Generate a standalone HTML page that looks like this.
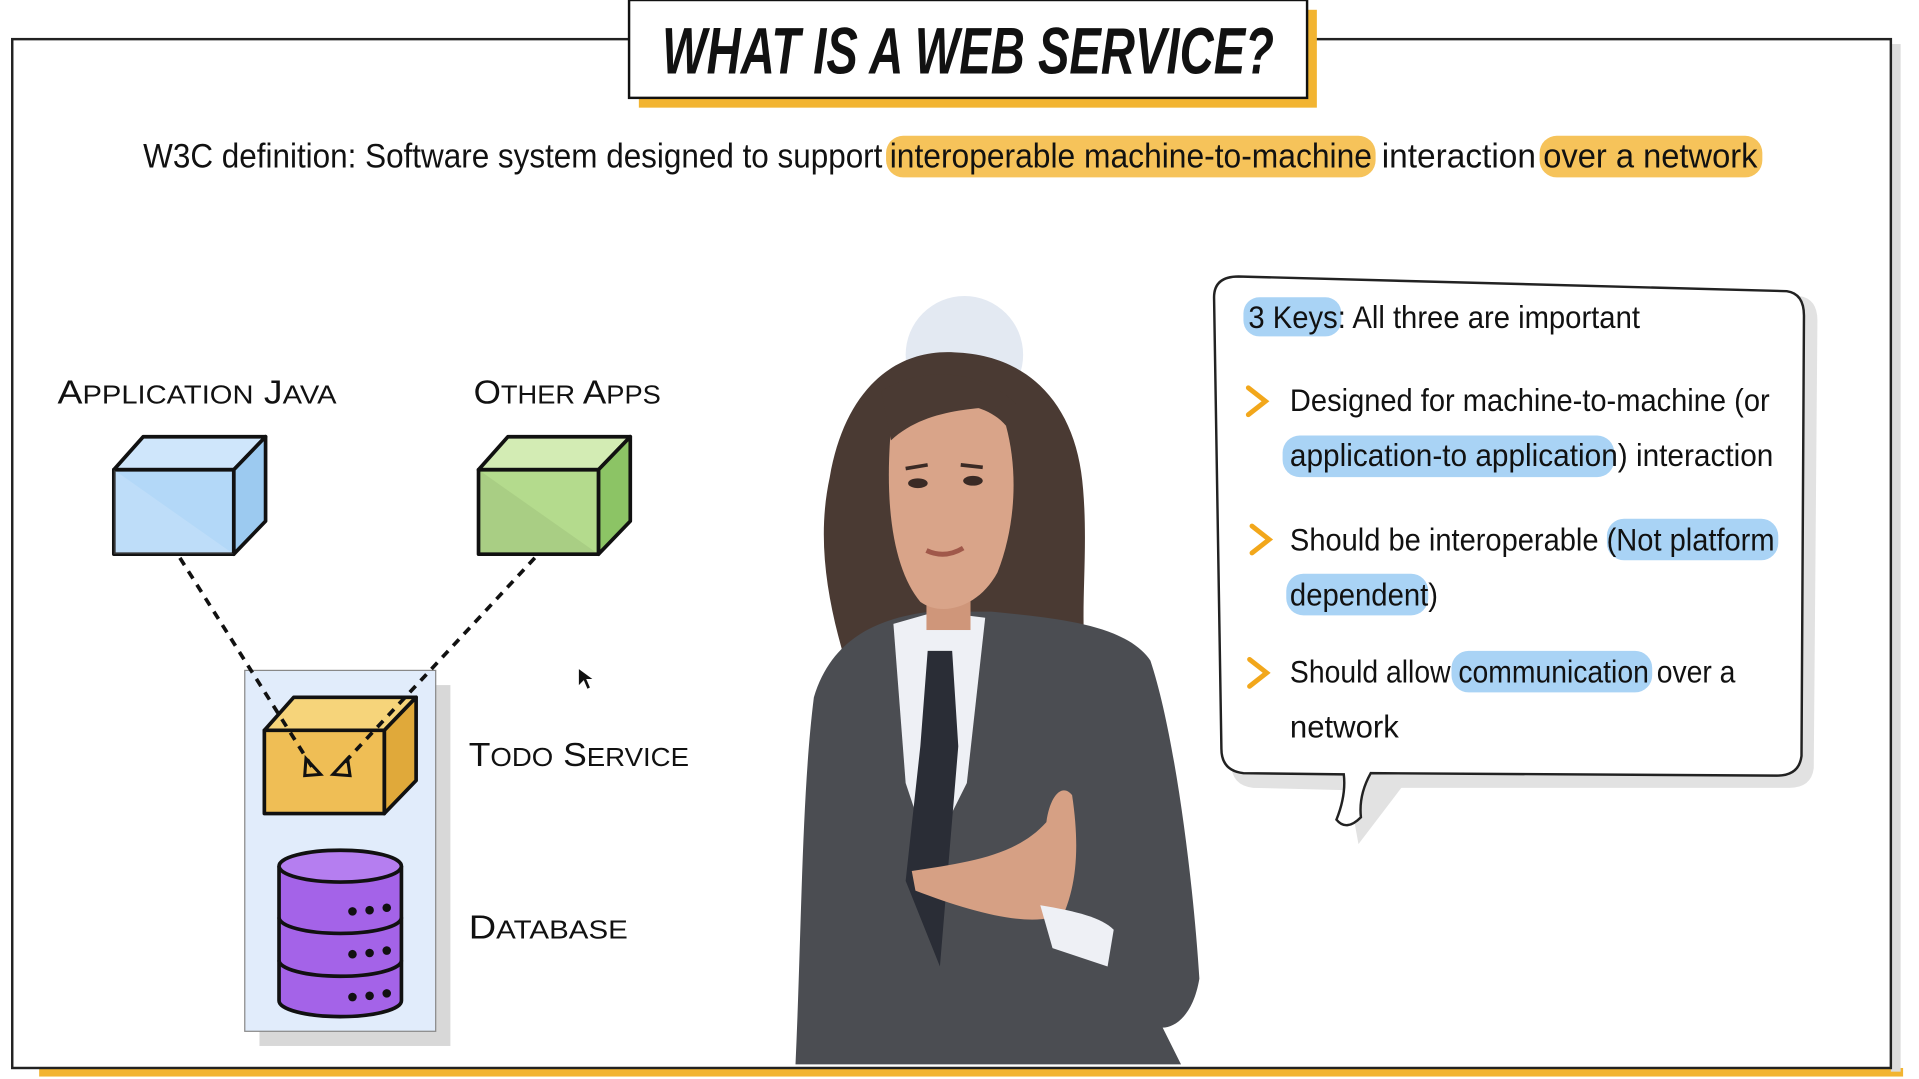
<!DOCTYPE html>
<html><head><meta charset="utf-8"><style>
html,body{margin:0;padding:0;background:#fff;overflow:hidden}
svg{display:block}
text{font-family:"Liberation Sans Narrow","Liberation Sans",sans-serif;fill:#111}
</style></head><body>
<svg width="1919" height="1079" viewBox="0 0 1568 882" preserveAspectRatio="none" xmlns="http://www.w3.org/2000/svg">
<rect width="1568" height="882" fill="#fff"/>
<rect x="32" y="873" width="1523" height="7" fill="#f2b431"/>
<rect x="1545" y="36" width="8" height="840" fill="#ddd"/>
<rect x="10" y="32" width="1535" height="841" fill="#fff" stroke="#222" stroke-width="2"/>
<rect x="522" y="8" width="554" height="80" fill="#f2b431"/>
<rect x="514" y="0" width="554" height="80" fill="#fff" stroke="#111" stroke-width="2"/>
<text x="791" y="60" text-anchor="middle" font-size="54" font-weight="bold" font-style="italic" textLength="500" lengthAdjust="spacingAndGlyphs">WHAT IS A WEB SERVICE?</text>
<rect x="724" y="111" width="400" height="34" rx="14" fill="#f6c35a"/>
<rect x="1258" y="111" width="182" height="34" rx="14" fill="#f6c35a"/>
<text x="117" y="137" font-size="28" textLength="604" lengthAdjust="spacingAndGlyphs">W3C definition: Software system designed to support</text>
<text x="727" y="137" font-size="28" textLength="394" lengthAdjust="spacingAndGlyphs">interoperable machine-to-machine</text>
<text x="1129" y="137" font-size="28" textLength="126" lengthAdjust="spacingAndGlyphs">interaction</text>
<text x="1261" y="137" font-size="28" textLength="175" lengthAdjust="spacingAndGlyphs">over a network</text>
<text x="47" y="330" font-size="27" textLength="228" lengthAdjust="spacingAndGlyphs">A<tspan font-size="21">PPLICATION</tspan> J<tspan font-size="21">AVA</tspan></text>
<text x="387" y="330" font-size="27" textLength="153" lengthAdjust="spacingAndGlyphs">O<tspan font-size="21">THER</tspan> A<tspan font-size="21">PPS</tspan></text>
<text x="383" y="626" font-size="27" textLength="180" lengthAdjust="spacingAndGlyphs">T<tspan font-size="21">ODO</tspan> S<tspan font-size="21">ERVICE</tspan></text>
<text x="383" y="767" font-size="27" textLength="130" lengthAdjust="spacingAndGlyphs">D<tspan font-size="21">ATABASE</tspan></text>
<g stroke="#111" stroke-width="3" stroke-linejoin="round">
<polygon points="93,384 117,357 217,357 191,384" fill="#cfe6fb"/>
<polygon points="191,384 217,357 217,426 191,453" fill="#9ccaf0"/>
<rect x="93" y="384" width="98" height="69" fill="#b3d8f8"/>
<polygon points="391,384 415,357 515,357 489,384" fill="#d3ecb4"/>
<polygon points="489,384 515,357 515,426 489,453" fill="#8cc465"/>
<rect x="391" y="384" width="98" height="69" fill="#b4db8d"/>
</g>
<polygon points="93,384 191,453 93,453" fill="#fff" opacity="0.15"/>
<polygon points="391,384 489,453 391,453" fill="#000" opacity="0.06"/>
<rect x="212" y="560" width="156" height="295" fill="#d8d8d8"/>
<rect x="200" y="548" width="156" height="295" fill="#e1ecfb" stroke="#888" stroke-width="1"/>
<g stroke="#111" stroke-width="3" stroke-linejoin="round">
<polygon points="216,597 240,570 340,570 314,597" fill="#f6d47a"/>
<polygon points="314,597 340,570 340,638 314,665" fill="#e0a93a"/>
<rect x="216" y="597" width="98" height="68" fill="#efbe55"/>
</g>
<g stroke="#111" stroke-width="3" stroke-dasharray="7,6" fill="none">
<line x1="147" y1="456" x2="255" y2="627"/>
<line x1="437" y1="456" x2="278" y2="627"/>
</g>
<polygon points="262,633 250,620 249,634" fill="none" stroke="#111" stroke-width="2.5"/>
<polygon points="272,633 284,620 286,634" fill="none" stroke="#111" stroke-width="2.5"/>
<g stroke="#111" stroke-width="3" fill="#a463e8">
<path d="M228,708 v110 a50,13 0 0 0 100,0 v-110"/>
<ellipse cx="278" cy="708" rx="50" ry="13" fill="#b57ef0"/>
<path d="M228,750 a50,13 0 0 0 100,0" fill="none"/>
<path d="M228,785 a50,13 0 0 0 100,0" fill="none"/>
</g>
<g fill="#111">
<circle cx="288" cy="745" r="3.5"/><circle cx="302" cy="744" r="3.5"/><circle cx="316" cy="742" r="3.5"/>
<circle cx="288" cy="780" r="3.5"/><circle cx="302" cy="779" r="3.5"/><circle cx="316" cy="777" r="3.5"/>
<circle cx="288" cy="815" r="3.5"/><circle cx="302" cy="814" r="3.5"/><circle cx="316" cy="812" r="3.5"/>
</g>
<polygon points="473,547 473,560 477,556 480,563 482,562 479,555 484,555" fill="#111"/>
<circle cx="788" cy="290" r="48" fill="#e3e9f2"/>
<!-- woman -->
<path d="M700,570 C680,510 665,450 678,390 C690,320 730,285 780,288 C840,290 880,330 885,400 C890,460 880,510 890,560 C860,575 820,560 800,540 L740,570 Z" fill="#4a3a33"/>
<path d="M665,570 C680,520 720,505 760,500 L810,500 C860,505 920,510 940,540 C960,600 975,720 980,800 C975,830 960,840 950,840 L965,870 L650,870 C655,760 655,650 665,570 Z" fill="#4b4d52"/>
<polygon points="730,510 765,500 805,505 790,640 760,700 740,640" fill="#eef0f5"/>
<polygon points="758,532 778,532 783,610 768,790 740,720 752,610" fill="#2a2d36"/>
<rect x="757" y="470" width="36" height="45" fill="#cf967a"/>
<path d="M728,350 C745,325 800,322 822,348 C832,385 830,430 815,468 C800,496 770,505 752,492 C732,468 722,420 728,350 Z" fill="#d9a489"/>
<path d="M720,320 C750,300 800,300 830,330 C810,335 760,330 728,360 Z" fill="#4a3a33"/>
<g fill="#3a2a25"><ellipse cx="750" cy="395" rx="8" ry="4"/><ellipse cx="795" cy="393" rx="8" ry="4"/></g>
<path d="M740,383 l18,-3 M785,380 l18,2" stroke="#3a2a25" stroke-width="3"/>
<path d="M757,450 q15,7 30,-2" stroke="#a0584a" stroke-width="4" fill="none"/>
<path d="M745,712 C790,705 830,700 855,672 C858,650 868,640 876,650 C882,690 880,720 870,745 C850,760 800,748 748,728 Z" fill="#d6a084"/>
<path d="M850,740 C880,745 900,750 910,760 L905,790 L860,775 Z" fill="#eef0f5"/>
<!-- speech bubble -->
<path d="M1000,250 Q1000,232 1020,232 L1470,242 Q1485,244 1485,262 L1482,628 Q1480,644 1462,644 L1145,644 L1110,690 L1102,646 L1024,644 Q1006,642 1006,624 Z" fill="#e2e2e2"/>
<path d="M992,243 Q992,226 1012,226 L1460,238 Q1474,240 1474,258 L1472,618 Q1470,634 1452,634 L1120,632 Q1110,650 1112,668 Q1100,680 1092,670 Q1100,650 1098,633 L1016,632 Q998,630 998,612 Z" fill="#fff" stroke="#222" stroke-width="2"/>
<g fill="#a9d3f5">
<rect x="1016" y="243" width="80" height="32" rx="13"/>
<rect x="1048" y="356" width="271" height="34" rx="14"/>
<rect x="1313" y="424" width="140" height="34" rx="14"/>
<rect x="1051" y="469" width="116" height="34" rx="14"/>
<rect x="1186" y="532" width="164" height="34" rx="14"/>
</g>
<g font-size="26">
<text x="1020" y="268" textLength="320" lengthAdjust="spacingAndGlyphs">3 Keys: All three are important</text>
<text x="1054" y="336" textLength="392" lengthAdjust="spacingAndGlyphs">Designed for machine-to-machine (or</text>
<text x="1054" y="381" textLength="395" lengthAdjust="spacingAndGlyphs">application-to application) interaction</text>
<text x="1054" y="450" textLength="396" lengthAdjust="spacingAndGlyphs">Should be interoperable (Not platform</text>
<text x="1054" y="495" textLength="121" lengthAdjust="spacingAndGlyphs">dependent)</text>
<text x="1054" y="558" textLength="364" lengthAdjust="spacingAndGlyphs">Should allow communication over a</text>
<text x="1054" y="603" textLength="89" lengthAdjust="spacingAndGlyphs">network</text>
</g>
<g fill="none" stroke="#f2a71b" stroke-width="4" stroke-linecap="round">
<polyline points="1020,317 1034,328 1020,339"/>
<polyline points="1023,430 1037,441 1023,452"/>
<polyline points="1021,539 1035,550 1021,561"/>
</g>
</svg>
</body></html>
